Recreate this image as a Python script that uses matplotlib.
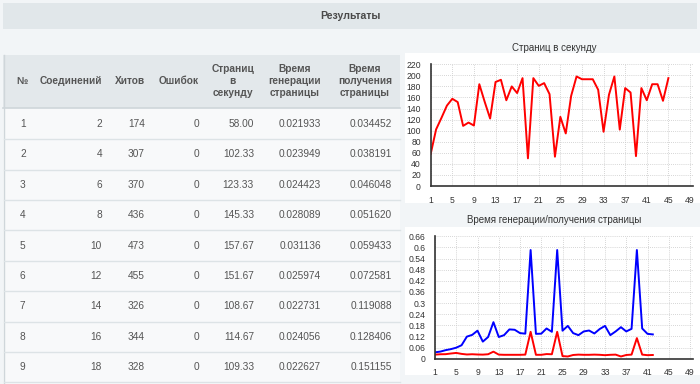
import matplotlib
matplotlib.use("Agg")
import matplotlib.pyplot as plt
from matplotlib.patches import Rectangle

plt.rcParams["font.family"] = ["Liberation Sans", "DejaVu Sans"]

W, H = 700, 384

# ---- data ----
title = "Результаты"
col_headers = ["№", "Соединений", "Хитов", "Ошибок", "Страниц\nв\nсекунду",
               "Время\nгенерации\nстраницы", "Время\nполучения\nстраницы"]
row_num = [1, 2, 3, 4, 5, 6, 7, 8, 9]
connections = [2, 4, 6, 8, 10, 12, 14, 16, 18]
hits = [174, 307, 370, 436, 473, 455, 326, 344, 328]
errors = [0, 0, 0, 0, 0, 0, 0, 0, 0]
pages_sec = ["58.00", "102.33", "123.33", "145.33", "157.67", "151.67",
             "108.67", "114.67", "109.33"]
gen_time = ["0.021933", "0.023949", "0.024423", "0.028089", "0.031136",
            "0.025974", "0.022731", "0.024056", "0.022627"]
get_time = ["0.034452", "0.038191", "0.046048", "0.051620", "0.059433",
            "0.072581", "0.119088", "0.128406", "0.151155"]

chart1_title = "Страниц в секунду"
pps = [58.00, 102.33, 123.33, 145.33, 157.67, 151.67, 108.67, 114.67, 109.33,
       184, 152, 122, 188, 192, 155, 180, 168, 195, 50, 195, 181, 186, 166,
       53, 125, 95, 163, 198, 193, 193, 193, 174, 98, 165, 198, 102, 177,
       169, 54, 177, 155, 184, 184, 154, 195]

chart2_title = "Время генерации/получения страницы"
t_get = [0.034452, 0.038191, 0.046048, 0.051620, 0.059433, 0.072581,
         0.119088, 0.128406, 0.151155, 0.092, 0.117, 0.197, 0.117, 0.127,
         0.158, 0.156, 0.138, 0.135, 0.586, 0.134, 0.135, 0.163, 0.145,
         0.586, 0.151, 0.177, 0.138, 0.127, 0.147, 0.152, 0.136, 0.160,
         0.177, 0.127, 0.147, 0.170, 0.147, 0.161, 0.586, 0.163, 0.134, 0.131]
t_gen = [0.021933, 0.023949, 0.024423, 0.028089, 0.031136, 0.025974,
         0.022731, 0.024056, 0.022627, 0.022, 0.024, 0.038, 0.022, 0.021,
         0.021, 0.021, 0.021, 0.022, 0.145, 0.021, 0.021, 0.025, 0.024,
         0.145, 0.014, 0.012, 0.020, 0.022, 0.021, 0.021, 0.022, 0.021,
         0.019, 0.021, 0.022, 0.012, 0.020, 0.022, 0.111, 0.022, 0.019, 0.020]

ticks_x = list(range(1, 50, 4))
ticks_pps = list(range(0, 221, 20))
ticks_t = [round(0.06 * i, 2) for i in range(12)]

TEXT = "#555555"
LINE = "#dde3e6"

fig = plt.figure(figsize=(W / 100, H / 100), dpi=100)
fig.patch.set_facecolor("#f2f5f7")

bg = fig.add_axes([0, 0, 1, 1])
bg.set_xlim(0, W)
bg.set_ylim(H, 0)
bg.axis("off")

# header band
bg.add_patch(Rectangle((3, 3), W - 6, 26, color="#e1e7ea", lw=0))
bg.text(W / 2, 16, title, ha="center", va="center", fontsize=7.6,
        color="#4a4a4a", fontweight="bold")

# table
bg.add_patch(Rectangle((3, 55), 397, 330, color="#f8f9fa", lw=0))
bg.add_patch(Rectangle((3, 55), 397, 53, color="#e3e8eb", lw=0))
bg.plot([4, 4], [55, 384], color="#cfd6da", lw=1)
bg.plot([3, 400], [108, 108], color="#cfd6da", lw=1.2)

right_x = [None, 102, 145, 199, 254, 321, 392]
for j, head in enumerate(col_headers):
    if j == 0:
        bg.text(16, 81, head, ha="left", va="center", fontsize=7.3,
                color=TEXT, fontweight="bold")
    else:
        bg.text(right_x[j], 81, head, ha="right", va="center",
                multialignment="center", fontsize=7.3, color=TEXT,
                fontweight="bold", linespacing=1.25)

columns = [connections, hits, errors, pages_sec, gen_time, get_time]
row_h = 30.4
for i, n in enumerate(row_num):
    yc = 124 + i * row_h
    bg.text(20, yc, str(n), ha="left", va="center", fontsize=7.3, color=TEXT)
    for j, col in enumerate(columns, start=1):
        bg.text(right_x[j], yc, str(col[i]), ha="right", va="center",
                fontsize=7.3, color=TEXT)
    bg.plot([4, 400], [yc + 15.2, yc + 15.2], color=LINE, lw=1)

# chart panels
bg.add_patch(Rectangle((405, 53), 295, 150, color="white", lw=0))
bg.add_patch(Rectangle((405, 227), 295, 148, color="white", lw=0))
bg.text(554, 48, chart1_title, ha="center", va="center", fontsize=7,
        color="#333333")
bg.text(554, 220, chart2_title, ha="center", va="center", fontsize=7,
        color="#333333")


def px_axes(x0, x1, y_top, y_bot):
    return fig.add_axes([x0 / W, 1 - y_bot / H, (x1 - x0) / W,
                         (y_bot - y_top) / H])


def style(ax, yticks, ymax, fmt):
    ax.set_facecolor("none")
    ax.set_xlim(1, 49.5)
    ax.set_ylim(0, ymax)
    ax.set_xticks(ticks_x)
    ax.set_yticks(yticks)
    ax.set_yticklabels([fmt(v) for v in yticks])
    for s in ("top", "right"):
        ax.spines[s].set_visible(False)
    for s in ("left", "bottom"):
        ax.spines[s].set_color("#333333")
        ax.spines[s].set_linewidth(1.2)
    ax.tick_params(length=0, labelsize=6.2, colors="#333333", pad=7)
    ax.grid(True, color="#c8c8c8", linestyle=(0, (1, 1.5)), lw=0.6)
    ax.set_axisbelow(True)


x1 = list(range(1, len(pps) + 1))
ax1 = px_axes(430.7, 430.7 + 48.5 * (690 - 430.7) / 48, 64.3, 186)
ax1.plot(x1, pps, color="#ff0000", lw=1.4)
style(ax1, ticks_pps, 220, lambda v: f"{v}")

x2 = list(range(1, len(t_get) + 1))
ax2 = px_axes(435, 435 + 48.5 * (690 - 435) / 48, 236.3, 358.7)
ax2.plot(x2, t_get, color="#0000ff", lw=1.4)
ax2.plot(x2, t_gen, color="#ff0000", lw=1.4)
style(ax2, ticks_t, 0.66, lambda v: f"{v:g}")

fig.savefig("out.png", dpi=100, facecolor=fig.get_facecolor())
